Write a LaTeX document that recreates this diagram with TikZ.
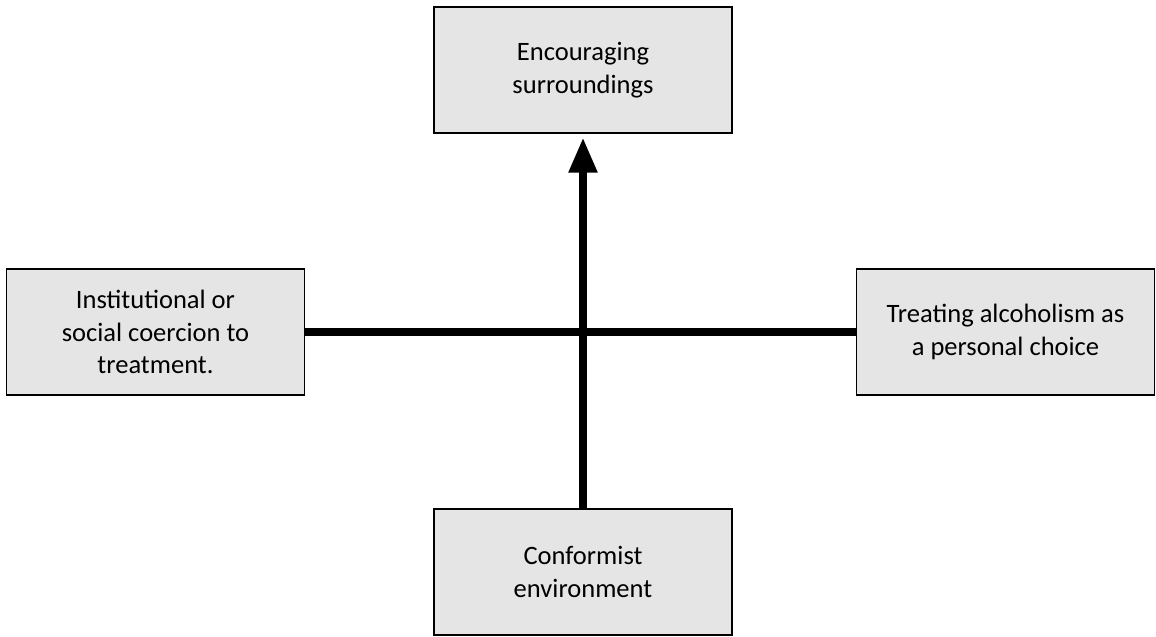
\documentclass[tikz,border=0pt]{standalone}
\usepackage{fontspec}
\setmainfont{Carlito}
\usetikzlibrary{arrows.meta}
\tikzset{
  box/.style={draw=black, line width=0.6pt, fill=black!10, rectangle,
    minimum width=5.96cm, minimum height=2.52cm, align=center,
    font=\fontsize{15.1}{18.7}\selectfont},
  axisline/.style={line width=0.16cm, draw=black}
}
\begin{document}
\begin{tikzpicture}
  \useasboundingbox (0,0) rectangle (23.12,12.72);
  \node[box] (encouraging) at (11.66,11.32) {Encouraging\\surroundings};
  \node[box] (coercion) at (3.11,6.08) {Institutional or\\social coercion to\\treatment.};
  \node[box] (choice) at (20.11,6.08) {Treating alcoholism as\\a personal choice};
  \node[box] (conformist) at (11.66,1.28) {Conformist\\environment};
  \draw[axisline] (coercion.east) -- (choice.west);
  \draw[axisline, -{Triangle[length=0.7cm, width=0.54cm]}, shorten >=0.08cm]
    (conformist.north) -- (encouraging.south);
\end{tikzpicture}
\end{document}
